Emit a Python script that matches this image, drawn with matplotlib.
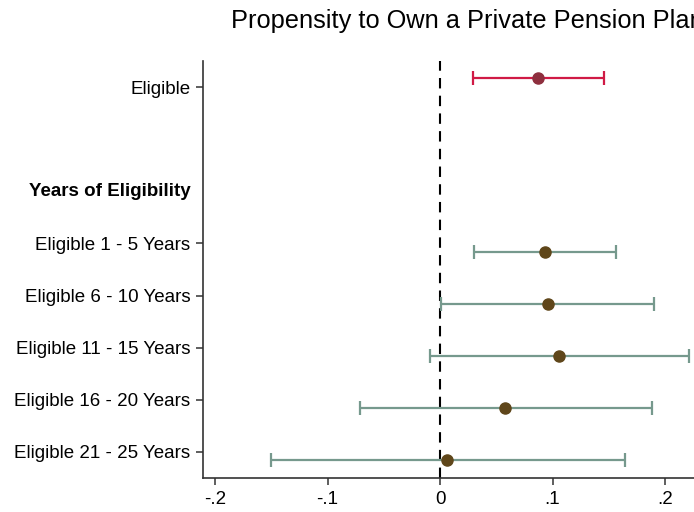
import matplotlib.pyplot as plt

plt.rcParams['font.family'] = ['Liberation Sans', 'DejaVu Sans']

# Coefficients with 95% confidence intervals
labels = ['Eligible', 'Years of Eligibility', 'Eligible 1 - 5 Years',
          'Eligible 6 - 10 Years', 'Eligible 11 - 15 Years',
          'Eligible 16 - 20 Years', 'Eligible 21 - 25 Years']
label_pos = [1, 3, 4, 5, 6, 7, 8]

elig_coef = [0.087]
elig_lo = [0.029]
elig_hi = [0.146]

years_coef = [0.093, 0.096, 0.106, 0.058, 0.0065]
years_lo = [0.030, 0.001, -0.009, -0.071, -0.150]
years_hi = [0.156, 0.190, 0.221, 0.188, 0.164]

fig = plt.figure(figsize=(6.94, 5.12), dpi=100)
W, H = 694, 512
# axes runs past the right edge of the figure
left, right, top, bottom = 203, 733, 61, 478
ax = fig.add_axes([left / W, 1 - bottom / H, (right - left) / W, (bottom - top) / H])

def draw(coef, lo, hi, ypos, line_col, dot_col):
    xerr = [[c - l for c, l in zip(coef, lo)], [h - c for c, h in zip(coef, hi)]]
    ax.errorbar(coef, ypos, xerr=xerr, fmt='none', ecolor=line_col,
                elinewidth=1.6, capsize=5, capthick=1.6, zorder=3)
    ax.plot(coef, ypos, 'o', color=dot_col, markersize=8, zorder=4)

draw(elig_coef, elig_lo, elig_hi, [1 - 0.18], '#d01a45', '#8e2f3e')
draw(years_coef, years_lo, years_hi, [p + 0.16 for p in label_pos[2:]],
     '#76998d', '#5f461a')

ax.axvline(0, color='black', linestyle=(0, (5, 3.5)), linewidth=1.5, zorder=2)

ax.set_xlim((left - 440) / 1125, (right - 440) / 1125)
ax.set_ylim(8.5, 0.5)

fs = 13.5
ax.set_xticks([-0.2, -0.1, 0, 0.1, 0.2])
ax.set_xticklabels(['-.2', '-.1', '0', '.1', '.2'], fontsize=fs)

ticked = [p for p, l in zip(label_pos, labels) if l != 'Years of Eligibility']
ax.set_yticks(ticked)
ax.set_yticklabels([l for l in labels if l != 'Years of Eligibility'], fontsize=fs)
ax.text(-12 / (right - left), 3, 'Years of Eligibility',
        transform=ax.get_yaxis_transform(),
        ha='right', va='center', fontsize=fs, fontweight='bold')

for s in ['top', 'right']:
    ax.spines[s].set_visible(False)
for s in ['left', 'bottom']:
    ax.spines[s].set_color('#333333')
    ax.spines[s].set_linewidth(1.2)
ax.tick_params(axis='both', length=5, width=1.1, color='#333333', pad=4)

fig.text(231 / W, 1 - 28 / H, 'Propensity to Own a Private Pension Plan',
         fontsize=18.3, ha='left', va='baseline')

fig.savefig('out.png', dpi=100)
